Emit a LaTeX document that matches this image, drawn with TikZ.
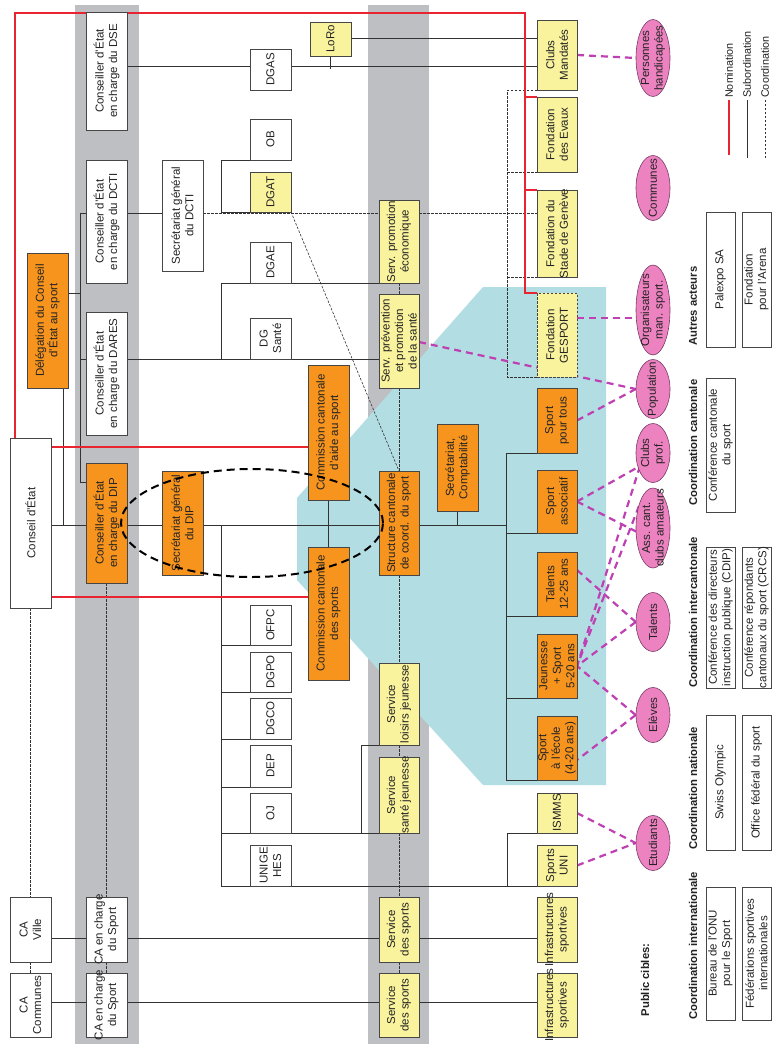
\documentclass[tikz,border=0pt]{standalone}
\usepackage{fontspec}
\setmainfont{Liberation Sans}
\usetikzlibrary{shapes.geometric}
\pgfdeclarelayer{back}
\pgfdeclarelayer{lines}
\pgfsetlayers{back,lines,main}
\definecolor{orF}{RGB}{247,148,30}
\definecolor{yeF}{RGB}{250,243,158}
\definecolor{grB}{RGB}{190,191,195}
\definecolor{blF}{RGB}{178,221,226}
\definecolor{piF}{RGB}{237,130,192}
\definecolor{piD}{RGB}{120,60,105}
\definecolor{maL}{RGB}{190,64,178}
\definecolor{reL}{RGB}{232,36,48}
\definecolor{boC}{RGB}{70,70,70}
\definecolor{txC}{RGB}{35,35,35}
\definecolor{liC}{RGB}{50,50,50}
\newcommand{\obox}[7]{%
  \pgfmathsetmacro{\obcx}{(#3+#5)/2}%
  \pgfmathsetmacro{\obcy}{(#4+#6)/2}%
  \pgfmathsetmacro{\obw}{#6-#4}%
  \pgfmathsetmacro{\obh}{#5-#3}%
  \node[#1, minimum width=\obw pt, minimum height=\obh pt] (#2) at (\obcx,\obcy) {};
  \node[txt] (#2t) at (#2.center) {#7};
}
\newcommand{\pell}[5]{%
  \node[pub, minimum width=#4pt, minimum height=34pt] (#1) at (#2,#3) {};
  \node[txt] (#1t) at (#1.center) {#5};
}
\begin{document}
\begin{tikzpicture}[x=1pt,y=-1pt,
  bxs/.style={rotate=90, draw=boC, line width=0.7pt, inner sep=0pt, outer sep=0pt},
  wbox/.style={bxs, fill=white},
  obx/.style={bxs, fill=orF},
  ybx/.style={bxs, fill=yeF},
  ydbx/.style={bxs, fill=yeF, dash pattern=on 2.5pt off 1.5pt},
  txt/.style={rotate=90, align=center, inner sep=0pt, text=txC, font=\fontsize{11.5}{13.5}\selectfont},
  pub/.style={ellipse, rotate=90, draw=piD, line width=0.6pt, fill=piF, inner sep=0pt},
  sub/.style={draw=liC, line width=0.7pt},
  nom/.style={draw=reL, line width=1.1pt},
  coo/.style={draw=liC, line width=0.6pt, dash pattern=on 2.5pt off 1.5pt},
  pco/.style={draw=maL, line width=2.2pt, dash pattern=on 7pt off 5pt},
  hd/.style={rotate=90, anchor=west, inner sep=0pt, text=txC, font=\fontsize{11.3}{13}\selectfont\bfseries},
  leg/.style={rotate=90, anchor=west, inner sep=0pt, text=txC, font=\fontsize{10.8}{12}\selectfont}]
\useasboundingbox (0,0) rectangle (777,1052);
\begin{pgfonlayer}{back}
  \fill[white] (0,0) rectangle (777,1052);
  \fill[grB] (75,5) rectangle (139,1044);
  \fill[grB] (368,5) rectangle (429,1044);
  \fill[blF] (483,287) -- (606,287) -- (606,785) -- (483,785) -- (297,580) -- (297,498) -- cycle;
\end{pgfonlayer}

% boxes
\obox{wbox}{ce}{10}{438}{51}{608}{Conseil d'État}
\obox{obx}{deleg}{27}{253}{68}{388}{Délégation du Conseil\\d'État au sport}
\obox{wbox}{caville}{10}{897}{51}{962}{CA\\Ville}
\obox{wbox}{cacomm}{10}{973}{51}{1037}{CA\\Communes}
\obox{wbox}{dse}{86}{12}{127}{130}{Conseiller d'État\\en charge du DSE}
\obox{wbox}{dcti}{86}{160}{127}{283}{Conseiller d'État\\en charge du DCTI}
\obox{wbox}{dares}{86}{312}{127}{435}{Conseiller d'État\\en charge du DARES}
\obox{obx}{dip}{86}{463}{127}{583}{Conseiller d'État\\en charge du DIP}
\obox{wbox}{casa}{86}{897}{127}{962}{CA en charge\\du Sport}
\obox{wbox}{casb}{86}{973}{127}{1037}{CA en charge\\du Sport}
\obox{wbox}{sgdcti}{162}{160}{203}{271}{Secrétariat général\\du DCTI}
\obox{obx}{sgdip}{162}{471}{203}{575}{Secrétariat général\\du DIP}
\obox{wbox}{dgas}{250}{49}{291}{90}{DGAS}
\obox{wbox}{ob}{250}{119}{291}{160}{OB}
\obox{ybx}{dgat}{250}{172}{291}{212}{DGAT}
\obox{wbox}{dgae}{250}{242}{291}{283}{DGAE}
\obox{wbox}{dgsante}{250}{318}{291}{359}{DG\\Santé}
\obox{wbox}{ofpc}{250}{605}{291}{645}{OFPC}
\obox{wbox}{dgpo}{250}{652}{291}{692}{DGPO}
\obox{wbox}{dgco}{250}{698}{291}{739}{DGCO}
\obox{wbox}{dep}{250}{745}{291}{787}{DEP}
\obox{wbox}{oj}{250}{793}{291}{833}{OJ}
\obox{wbox}{unige}{250}{845}{291}{886}{UNIGE\\HES}
\obox{ybx}{loro}{310}{22}{351}{56}{LoRo}
\obox{obx}{ccaide}{308}{365}{349}{500}{Commission cantonale\\d'aide au sport}
\obox{obx}{ccsports}{308}{547}{349}{680}{Commission cantonale\\des sports}
\obox{ybx}{spromo}{379}{200}{419}{283}{Serv. promotion\\économique}
\obox{ybx}{sprev}{379}{294}{419}{388}{Serv. prévention\\et promotion\\de la santé}
\obox{obx}{structure}{379}{471}{419}{575}{Structure cantonale\\de coord. du sport}
\obox{ybx}{sloisirs}{379}{663}{419}{745}{Service\\loisirs jeunesse}
\obox{ybx}{ssante}{379}{757}{419}{833}{Service\\santé jeunesse}
\obox{ybx}{sdsa}{379}{897}{419}{962}{Service\\des sports}
\obox{ybx}{sdsb}{379}{973}{419}{1037}{Service\\des sports}
\obox{obx}{secompta}{437}{424}{478}{511}{Secrétariat,\\Comptabilité}
\obox{ybx}{clubsm}{537}{20}{577}{90}{Clubs\\Mandatés}
\obox{ybx}{evaux}{537}{97}{577}{172}{Fondation\\des Evaux}
\obox{ybx}{stade}{537}{190}{577}{277}{Fondation du\\Stade de Genève}
\obox{ydbx}{gesport}{537}{293}{577}{377}{Fondation\\GESPORT}
\obox{obx}{spt}{537}{388}{577}{453}{Sport\\pour tous}
\obox{obx}{sass}{537}{470}{577}{533}{Sport\\associatif}
\obox{obx}{stal}{537}{552}{577}{616}{Talents\\12-25 ans}
\obox{obx}{js}{537}{634}{577}{698}{Jeunesse\\+ Sport\\5-20 ans}
\obox{obx}{secole}{537}{716}{577}{780}{Sport\\à l'école\\(4-20 ans)}
\obox{ybx}{ismms}{537}{793}{577}{833}{ISMMS}
\obox{ybx}{suni}{537}{845}{577}{886}{Sports\\UNI}
\obox{ybx}{infa}{537}{897}{577}{962}{Infrastructures\\sportives}
\obox{ybx}{infb}{537}{973}{577}{1037}{Infrastructures\\sportives}
% other actors
\obox{wbox}{palexpo}{706}{212}{735}{347}{Palexpo SA}
\obox{wbox}{arena}{742}{212}{771}{347}{Fondation\\pour l'Arena}
\obox{wbox}{ccs}{706}{378}{735}{512}{Conférence cantonale\\du sport}
\obox{wbox}{cdip}{706}{547}{735}{688}{Conférence des directeurs\\instruction publique (CDIP)}
\obox{wbox}{crcs}{742}{547}{771}{688}{Conférence répondants\\cantonaux du sport (CRCS)}
\obox{wbox}{swiss}{706}{715}{735}{850}{Swiss Olympic}
\obox{wbox}{ofspo}{742}{715}{771}{850}{Office fédéral du sport}
\obox{wbox}{onu}{706}{887}{735}{1020}{Bureau de l'ONU\\pour le Sport}
\obox{wbox}{fedint}{742}{887}{771}{1020}{Fédérations sportives\\internationales}
% public targets
\pell{eph}{653}{58}{77}{Personnes\\handicapées}
\pell{ecom}{653}{188}{65}{Communes}
\pell{eorg}{653}{310}{90}{Organisateurs\\man. sport.}
\pell{epop}{653}{389}{59}{Population}
\pell{eclp}{653}{453}{59}{Clubs\\prof.}
\pell{eass}{653}{528}{80}{Ass. cant.\\clubs amateurs}
\pell{etal}{653}{622}{59}{Talents}
\pell{eel}{653}{715}{55}{Elèves}
\pell{eetu}{653}{843}{55}{Etudiants}

% headings
\node[hd, anchor=center] (pubc) at (645,980) {Public cibles:};
\node[hd] (hint) at (693,1020) {Coordination internationale};
\node[hd] (hnat) at (693,850) {Coordination nationale};
\node[hd] (hicant) at (693,688) {Coordination intercantonale};
\node[hd] (hcant) at (693,506) {Coordination cantonale};
\node[hd] (haut) at (693,346) {Autres acteurs};
% legend
\draw[nom] (729,155) -- (729,100);
\node[leg] (lnom) at (729,98) {Nomination};
\draw[sub] (747,158) -- (747,100);
\node[leg] (lsub) at (747,98) {Subordination};
\draw[coo] (765,158) -- (765,100);
\node[leg] (lcoo) at (765,98) {Coordination};

\begin{pgfonlayer}{lines}
% subordination
\draw[sub] (dse.south |- 0,66) -- (dgas.north |- 0,66);
\draw[sub] (dgas.south |- 0,66) -- (clubsm.north |- 0,66);
\draw[sub] (loro.west) -- ++(0,13);
\draw[sub] (loro.south |- 0,38) -- (clubsm.north |- 0,38);
\draw[sub] (dcti.north |- 0,213) -- (80,213) -- (80,482) -- (dip.north |- 0,482);
\draw[sub] (deleg.south |- 0,293) -- (80,293);
\draw[sub] (80,359) -- (dares.north |- 0,359);
\draw[sub] (deleg.west -| 63,0) -- (63,525);
\draw[sub] (ce.south |- 0,525) -- (dip.north |- 0,525);
\draw[sub] (dip.south |- 0,525) -- (sgdip.north |- 0,525);
\draw[sub] (sgdip.south |- 0,525) -- (structure.north |- 0,525);
\draw[sub] (structure.south |- 0,525) -- (506,525);
\draw[sub] (secompta.west) -- (secompta.west |- 0,525);
\draw[sub] (ccaide.west) -- (ccsports.east);
\draw[sub] (spt.north west) -- (506,453) -- (506,780) -- (secole.north west);
\draw[sub] (506,533) -- (sass.north west);
\draw[sub] (506,616) -- (stal.north west);
\draw[sub] (506,698) -- (js.north west);
\draw[sub] (221,525) -- (221,886) -- (suni.north west);
\draw[sub] (221,645) -- (ofpc.north west);
\draw[sub] (221,692) -- (dgpo.north west);
\draw[sub] (221,739) -- (dgco.north west);
\draw[sub] (221,787) -- (dep.north west);
\draw[sub] (221,833) -- (ssante.north west);
\draw[sub] (361,833) -- (361,745) -- (sloisirs.north west);
\draw[sub] (507,886) -- (507,833) -- (ismms.north west);
\draw[sub] (dares.south |- 0,359) -- (sprev.north |- 0,359);
\draw[sub] (221,359) -- (221,283) -- (spromo.north west);
\draw[sub] (dcti.south |- 0,213) -- (sgdcti.north |- 0,213);
\draw[sub] (dgat.north west) -- (221,212) -- (221,160) -- (ob.north west);
\draw[sub] (caville.south |- 0,938) -- (casa.north |- 0,938);
\draw[sub] (casa.south |- 0,938) -- (sdsa.north |- 0,938);
\draw[sub] (sdsa.south |- 0,938) -- (infa.north |- 0,938);
\draw[sub] (cacomm.south |- 0,1002) -- (casb.north |- 0,1002);
\draw[sub] (casb.south |- 0,1002) -- (sdsb.north |- 0,1002);
\draw[sub] (sdsb.south |- 0,1002) -- (infb.north |- 0,1002);
% coordination (thin)
\draw[coo] (ce.west) -- (caville.east);
\draw[coo] (caville.west) -- (cacomm.east);
\draw[coo] (dip.west) -- (casa.east);
\draw[coo] (casa.west) -- (casb.east);
\draw[coo] (spromo.west) -- (sprev.east);
\draw[coo] (sprev.west) -- (structure.east);
\draw[coo] (structure.west) -- (sloisirs.east);
\draw[coo] (sloisirs.west) -- (ssante.east);
\draw[coo] (ssante.west) -- (sdsa.east);
\draw[coo] (sdsa.west) -- (sdsb.east);
\draw[coo] (dgat.south west) -- (structure.east);
\draw[coo] (sgdcti.south |- 0,213) -- (stade.north |- 0,213);
\draw[coo] (clubsm.north west) -- (507,90) -- (507,377) -- (gesport.north west);
\draw[coo] (507,172) -- (evaux.north west);
\draw[coo] (507,277) -- (stade.north west);
% nomination
\draw[nom] (ce.east -| 15,0) -- (15,13) -- (525,13) |- (gesport.north east);
\draw[nom] (evaux.north east -| 525,0) -- (evaux.north east);
\draw[nom] (stade.north east -| 525,0) -- (stade.north east);
\draw[nom] (ce.south |- 0,447) -- (ccaide.north |- 0,447);
\draw[nom] (ce.south |- 0,597) -- (ccsports.north |- 0,597);
% coordination with public
\draw[pco] (clubsm.south) -- (eph.north);
\draw[pco] (gesport.south |- 0,318) -- (eorg.north |- 0,318);
\draw[pco] (sprev.south |- 0,342) -- (epop.north);
\draw[pco] (spt.south) -- (epop.north);
\draw[pco] (sass.south) -- ([shift={(-13,13)}]eclp.center);
\draw[pco] (sass.south) -- ([shift={(-16,4)}]eass.center);
\draw[pco] ([shift={(-13,13)}]eclp.center) -- (js.south);
\draw[pco] ([shift={(-14,-22)}]eass.center) -- (js.south);
\draw[pco] (stal.south |- 0,570) -- (etal.north);
\draw[pco] (etal.north) -- (js.south);
\draw[pco] (eel.north) -- (js.south);
\draw[pco] (eel.north) -- (secole.south |- 0,760);
\draw[pco] (ismms.south) -- (eetu.north);
\draw[pco] (suni.south) -- (eetu.north);
\end{pgfonlayer}

% DIP ellipse
\node[ellipse, draw=black, line width=2pt, dash pattern=on 8pt off 5pt, minimum width=262pt, minimum height=108pt, inner sep=0pt] (dipell) at (252,523) {};
\end{tikzpicture}
\end{document}
